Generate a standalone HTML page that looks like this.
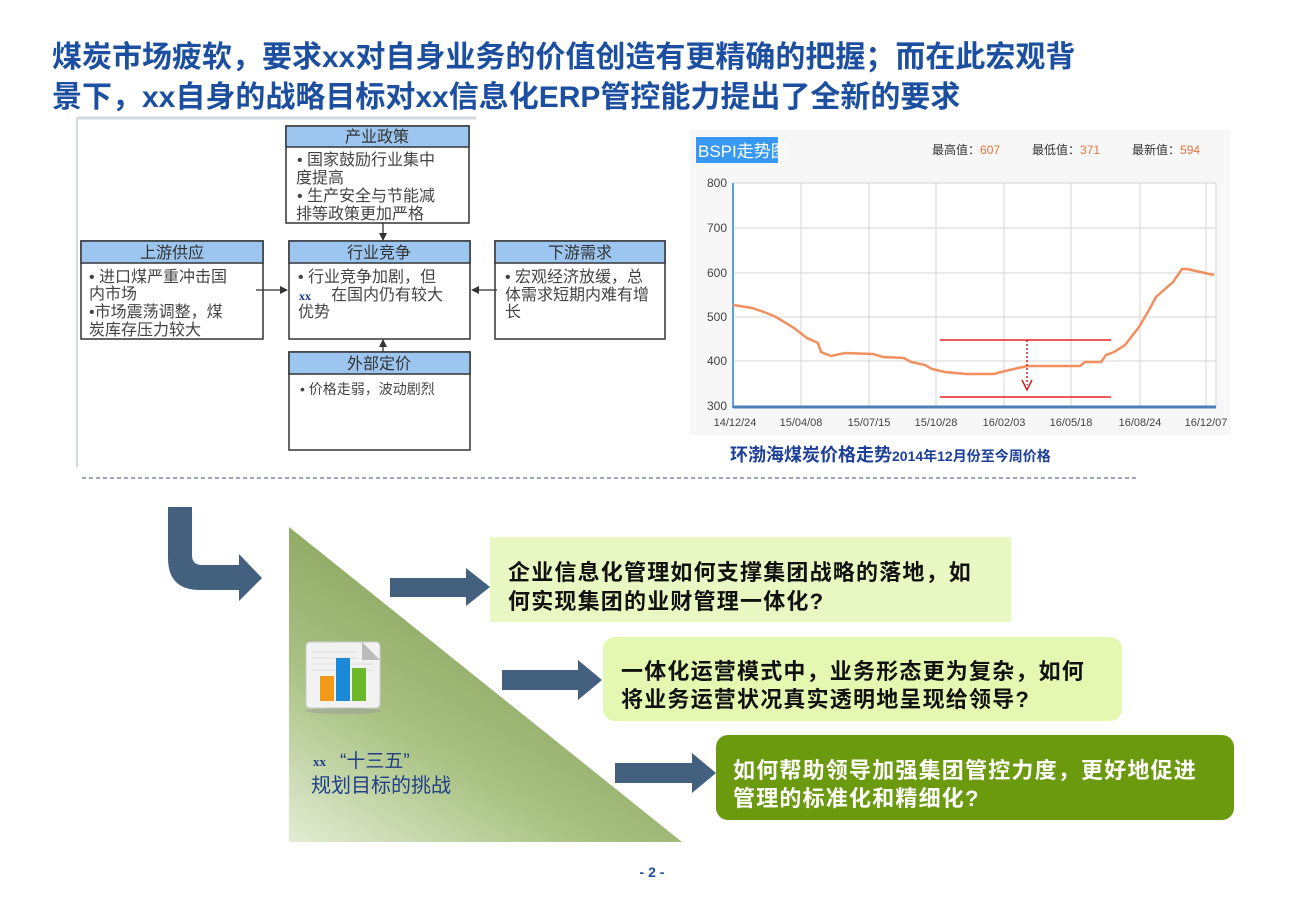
<!DOCTYPE html>
<html><head><meta charset="utf-8"><style>
html,body{margin:0;padding:0;background:#fff;}
body{width:1300px;height:900px;position:relative;overflow:hidden;font-family:"Liberation Sans","Noto Sans CJK SC",sans-serif;}
svg{position:absolute;left:0;top:0;}
</style></head><body>
<svg width="1300" height="900" viewBox="0 0 1300 900" xmlns="http://www.w3.org/2000/svg" font-family="Liberation Sans, Noto Sans CJK SC, sans-serif">
<defs>
<linearGradient id="tri" x1="0" y1="1" x2="0.6" y2="0.2">
<stop offset="0" stop-color="#e3ecd3"/><stop offset="0.45" stop-color="#a9c283"/><stop offset="1" stop-color="#849f58"/>
</linearGradient>
<marker id="ah" markerWidth="8" markerHeight="8" refX="7" refY="4" orient="auto" markerUnits="userSpaceOnUse"><path d="M0,0 L8,4 L0,8 z" fill="#333"/></marker>
</defs>
<!-- Title -->
<text x="52" y="67" font-size="30" font-weight="bold" fill="#1c4fa0">煤炭市场疲软，要求xx对自身业务的价值创造有更精确的把握；而在此宏观背</text>
<text x="52" y="107" font-size="30" font-weight="bold" fill="#1c4fa0">景下，xx自身的战略目标对xx信息化ERP管控能力提出了全新的要求</text>

<!-- left diagram frame -->
<rect x="76" y="117" width="400" height="350" fill="#fff"/>
<line x1="77" y1="118" x2="476" y2="118" stroke="#d3d8e0" stroke-width="3"/>
<line x1="77" y1="118" x2="77" y2="467" stroke="#d3d8e0" stroke-width="2"/>
<g font-size="15" fill="#444" stroke="#333" stroke-width="1.5">
<rect x="286" y="126" width="183" height="97" fill="#fff"/><rect x="286" y="126" width="183" height="21" fill="#9cc6ef"/>
<rect x="81" y="241" width="182" height="98" fill="#fff"/><rect x="81" y="241" width="182" height="22" fill="#9cc6ef"/>
<rect x="289" y="241" width="181" height="98" fill="#fff"/><rect x="289" y="241" width="181" height="22" fill="#9cc6ef"/>
<rect x="289" y="352" width="181" height="98" fill="#fff"/><rect x="289" y="352" width="181" height="22" fill="#9cc6ef"/>
<rect x="495" y="241" width="170" height="98" fill="#fff"/><rect x="495" y="241" width="170" height="22" fill="#9cc6ef"/>
</g>
<g font-size="16" fill="#333" text-anchor="middle">
<text x="377" y="142">产业政策</text>
<text x="172" y="258">上游供应</text>
<text x="379" y="258">行业竞争</text>
<text x="379" y="369">外部定价</text>
<text x="580" y="258">下游需求</text>
</g>
<g font-size="16" fill="#444">
<text x="297" y="165">• 国家鼓励行业集中</text>
<text x="296" y="183">度提高</text>
<text x="297" y="201">• 生产安全与节能减</text>
<text x="296" y="219">排等政策更加严格</text>
<text x="89" y="282">• 进口煤严重冲击国</text>
<text x="89" y="299">内市场</text>
<text x="89" y="317">•市场震荡调整，煤</text>
<text x="89" y="335">炭库存压力较大</text>
<text x="298" y="282">• 行业竞争加剧，但</text>
<text x="299" y="300" font-size="12" font-weight="bold" fill="#1c3a90" font-family="Liberation Serif, serif">xx</text>
<text x="331" y="300">在国内仍有较大</text>
<text x="298" y="317">优势</text>
<text x="300" y="394" font-size="14">•  价格走弱，波动剧烈</text>
<text x="505" y="282">• 宏观经济放缓，总</text>
<text x="505" y="300">体需求短期内难有增</text>
<text x="505" y="317">长</text>
</g>
<g stroke="#333" stroke-width="1.3">
<line x1="256" y1="290" x2="287" y2="290" marker-end="url(#ah)"/>
<line x1="497" y1="290" x2="472" y2="290" marker-end="url(#ah)"/>
<line x1="383" y1="223" x2="383" y2="240" marker-end="url(#ah)"/>
<line x1="383" y1="352" x2="383" y2="340" marker-end="url(#ah)"/>
</g>

<!-- chart -->
<rect x="690" y="130" width="540" height="305" fill="#f7f7f7"/>
<rect x="696" y="137" width="82" height="26" fill="#3a98f5"/>
<text x="698" y="157" font-size="17" fill="#fff">BSPI走势图</text>
<g font-size="12" fill="#333">
<text x="932" y="154">最高值：<tspan fill="#e8743a">607</tspan></text>
<text x="1032" y="154">最低值：<tspan fill="#e8743a">371</tspan></text>
<text x="1132" y="154">最新值：<tspan fill="#e8743a">594</tspan></text>
</g>
<rect x="733" y="183" width="483" height="224" fill="#fff"/>
<g stroke="#d6d6d6" stroke-width="1">
<line x1="733" y1="183" x2="1216" y2="183"/><line x1="733" y1="228" x2="1216" y2="228"/>
<line x1="733" y1="273" x2="1216" y2="273"/><line x1="733" y1="317" x2="1216" y2="317"/>
<line x1="733" y1="361" x2="1216" y2="361"/>
<line x1="801" y1="183" x2="801" y2="407"/><line x1="869" y1="183" x2="869" y2="407"/>
<line x1="936" y1="183" x2="936" y2="407"/><line x1="1004" y1="183" x2="1004" y2="407"/>
<line x1="1071" y1="183" x2="1071" y2="407"/><line x1="1140" y1="183" x2="1140" y2="407"/>
<line x1="1206" y1="183" x2="1206" y2="407"/><line x1="1216" y1="183" x2="1216" y2="407"/>
</g>
<line x1="733" y1="183" x2="733" y2="408" stroke="#5aa0e0" stroke-width="2"/>
<line x1="733" y1="407" x2="1216" y2="407" stroke="#4a7fb8" stroke-width="3"/>
<g font-size="12" fill="#444" text-anchor="end">
<text x="727" y="187">800</text><text x="727" y="232">700</text><text x="727" y="277">600</text>
<text x="727" y="321">500</text><text x="727" y="365">400</text><text x="727" y="410">300</text>
</g>
<g font-size="11" fill="#444" text-anchor="middle">
<text x="735" y="426">14/12/24</text><text x="801" y="426">15/04/08</text><text x="869" y="426">15/07/15</text>
<text x="936" y="426">15/10/28</text><text x="1004" y="426">16/02/03</text><text x="1071" y="426">16/05/18</text>
<text x="1140" y="426">16/08/24</text><text x="1206" y="426">16/12/07</text>
</g>
<polyline fill="none" stroke="#f09060" stroke-width="2.5" points="733,305 752,308 764,312 776,317 794,328 807,338 818,343 821,352 831,356 845,353 873,354 883,357 904,358 911,362 925,365 932,369 945,372 966,374 994,374 1001,372 1018,368 1028,366 1080,366 1085,362 1101,362 1106,355 1114,352 1125,345 1139,327 1149,310 1156,297 1173,282 1182,269 1187,269 1214,275"/>
<line x1="940" y1="340" x2="1111" y2="340" stroke="#e82020" stroke-width="1.5"/>
<line x1="940" y1="397" x2="1111" y2="397" stroke="#e82020" stroke-width="1.5"/>
<line x1="1027" y1="340" x2="1027" y2="385" stroke="#d02020" stroke-width="1.5" stroke-dasharray="2,2"/>
<path d="M1022,380 L1027,390 L1032,380" fill="none" stroke="#d02020" stroke-width="1.5"/>
<text x="730" y="461" font-size="18" font-weight="bold" fill="#1c3f98">环渤海煤炭价格走势<tspan font-size="14">2014年12月份至今周价格</tspan></text>

<!-- dashed separator -->
<line x1="82" y1="478" x2="1138" y2="478" stroke="#5a74a0" stroke-width="1.2" stroke-dasharray="4,3"/>

<!-- bent arrow -->
<path d="M168,507 L192,507 L192,555 Q192,565 202,565 L239,565 L239,554 L262,578 L239,601 L239,590 L200,590 Q168,590 168,558 Z" fill="#44607f"/>

<!-- triangle -->
<polygon points="289,527 289,842 682,842" fill="url(#tri)"/>
<!-- icon -->
<g>
<rect x="306" y="642" width="74" height="66" rx="4" fill="#f2f2f2" stroke="#ccc"/>
<path d="M362,642 L380,660 L362,660 Z" fill="#bbb"/>
<g stroke="#ddd" stroke-width="1"><line x1="312" y1="652" x2="358" y2="652"/><line x1="312" y1="658" x2="358" y2="658"/><line x1="312" y1="664" x2="374" y2="664"/><line x1="312" y1="670" x2="374" y2="670"/></g>
<rect x="320" y="676" width="14" height="25" fill="#f29a18"/>
<rect x="336" y="658" width="14" height="43" fill="#1c88d8"/>
<rect x="352" y="668" width="14" height="33" fill="#6cb82a"/>
<ellipse cx="343" cy="711" rx="38" ry="3" fill="#999" opacity="0.5"/>
</g>
<text x="313" y="766" font-size="13" font-weight="bold" fill="#1f3f88" font-family="Liberation Serif, serif">xx</text>
<text x="340" y="767" font-size="19" fill="#1f3f88">“十三五”</text>
<text x="311" y="792" font-size="20" fill="#1f3f88">规划目标的挑战</text>

<!-- arrows -->
<path d="M390,578 L466,578 L466,568 L490,587 L466,606 L466,597 L390,597 Z" fill="#44607f"/>
<path d="M502,670 L578,670 L578,660 L602,680 L578,700 L578,690 L502,690 Z" fill="#44607f"/>
<path d="M615,763 L692,763 L692,753 L716,773 L692,793 L692,783 L615,783 Z" fill="#44607f"/>

<!-- boxes -->
<rect x="490" y="537" width="521" height="85" fill="#e9f8c2"/>
<rect x="603" y="637" width="519" height="84" rx="12" fill="#e5f8b2"/>
<rect x="716" y="735" width="518" height="85" rx="12" fill="#6b9a0e"/>
<g font-size="22" font-weight="bold" letter-spacing="1.2">
<text x="508" y="580" fill="#111">企业信息化管理如何支撑集团战略的落地，如</text>
<text x="508" y="609" fill="#111">何实现集团的业财管理一体化?</text>
<text x="621" y="679" fill="#111">一体化运营模式中，业务形态更为复杂，如何</text>
<text x="621" y="707" fill="#111">将业务运营状况真实透明地呈现给领导?</text>
<text x="733" y="778" fill="#fff">如何帮助领导加强集团管控力度，更好地促进</text>
<text x="733" y="806" fill="#fff">管理的标准化和精细化?</text>
</g>
<text x="652" y="877" font-size="14" font-weight="bold" fill="#1c4fa0" text-anchor="middle">- 2 -</text>
</svg>
</body></html>
